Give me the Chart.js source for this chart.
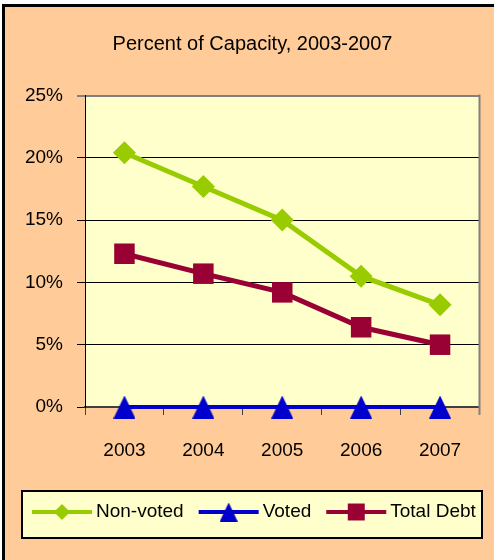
<!DOCTYPE html>
<html>
<head>
<meta charset="utf-8">
<script src="https://cdn.jsdelivr.net/npm/chart.js@4.4.0/dist/chart.umd.min.js"></script>
<style>
    html, body { margin: 0; padding: 0; background: #fff; }
    #wrap { width: 494px; height: 560px; position: relative; }
</style>
</head>
<body>
<div id="wrap"><canvas id="capacityChart" width="494" height="560"></canvas></div>
<script>
const years = ["2003", "2004", "2005", "2006", "2007"];
const nonVoted = [20.4, 17.7, 15.0, 10.5, 8.2];
const voted = [0, 0, 0, 0, 0];
const totalDebt = [12.3, 10.7, 9.2, 6.4, 5.0];
const yTicks = [0, 5, 10, 15, 20, 25];

const FONT = "'Liberation Sans', Arial, sans-serif";

// Triangle marker as a small canvas, centred on the point like in Excel
function makeTriangle(w, h, color) {
    const c = document.createElement("canvas");
    c.width = w;
    c.height = h;
    const g = c.getContext("2d");
    g.fillStyle = color;
    g.beginPath();
    g.moveTo(w / 2, 0);
    g.lineTo(w, h);
    g.lineTo(0, h);
    g.closePath();
    g.fill();
    return c;
}

// Background, outer frame, plot area fill and boxed legend
const frame = {
    id: "frame",
    beforeDraw(chart) {
        const { ctx, width, height, chartArea: a } = chart;
        ctx.save();
        ctx.fillStyle = "#fff";
        ctx.fillRect(0, 0, width, height);
        ctx.fillStyle = "#FFCC99";
        ctx.fillRect(2, 4, width, height);
        ctx.fillStyle = "#000";
        ctx.fillRect(2, 4, 3, height);
        ctx.fillRect(2, 4, width, 3);
        ctx.fillStyle = "#FFFFCC";
        ctx.fillRect(a.left, a.top, a.right - a.left, a.bottom - a.top);
        ctx.restore();
    },
    afterDatasetsDraw(chart) {
        const { ctx, chartArea: a } = chart;
        ctx.save();
        ctx.strokeStyle = "#808080";
        ctx.lineWidth = 2;
        ctx.beginPath();
        ctx.moveTo(a.right, a.top - 1);
        ctx.lineTo(a.right, a.bottom + 8);
        ctx.stroke();
        ctx.restore();
    },
    afterDraw(chart) {
        const { ctx } = chart;
        const top = chart.chartArea.bottom + 84;   // just under the x axis
        const cy = top + 21;
        ctx.save();
        ctx.font = "19px " + FONT;
        ctx.textBaseline = "middle";

        const lineW = 60, gapText = 4, gapItem = 15;
        let x = 32;
        const items = chart.data.datasets.map(ds => {
            const w = ctx.measureText(ds.label).width;
            const it = { ds, x, w };
            x += lineW + gapText + w + gapItem;
            return it;
        });
        const right = Math.max(482, x - gapItem + 2);

        ctx.fillStyle = "#FFFFCC";
        ctx.fillRect(22, top, right - 22, 47);
        ctx.strokeStyle = "#000";
        ctx.lineWidth = 2;
        ctx.strokeRect(22, top, right - 22, 47);

        items.forEach(({ ds, x }) => {
            ctx.strokeStyle = ds.borderColor;
            ctx.lineWidth = 4;
            ctx.beginPath();
            ctx.moveTo(x, cy);
            ctx.lineTo(x + lineW, cy);
            ctx.stroke();
            ctx.fillStyle = ds.pointBackgroundColor;
            Chart.helpers.drawPoint(ctx, {
                pointStyle: ds.legendStyle || ds.pointStyle,
                radius: ds.legendRadius,
                borderWidth: 0,
                rotation: 0
            }, x + lineW / 2, cy);
            ctx.fillStyle = "#000";
            ctx.textAlign = "left";
            ctx.fillText(ds.label, x + lineW + gapText, cy);
        });
        ctx.restore();
    }
};

new Chart(document.getElementById("capacityChart"), {
    type: "line",
    data: {
        labels: years,
        datasets: [{
            label: "Non-voted",
            data: nonVoted,
            borderColor: "#99CC00",
            backgroundColor: "#99CC00",
            pointBackgroundColor: "#99CC00",
            pointBorderWidth: 0,
            borderWidth: 5,
            pointStyle: "rectRot",
            pointRadius: 11.5,
            legendRadius: 8
        }, {
            label: "Voted",
            data: voted,
            borderColor: "#0000CC",
            backgroundColor: "#0000CC",
            pointBackgroundColor: "#0000CC",
            pointBorderWidth: 0,
            borderWidth: 4,
            pointStyle: makeTriangle(22, 23, "#0000CC"),
            legendStyle: makeTriangle(18, 19, "#0000CC"),
            pointRadius: 12,
            legendRadius: 10
        }, {
            label: "Total Debt",
            data: totalDebt,
            borderColor: "#990033",
            backgroundColor: "#990033",
            pointBackgroundColor: "#990033",
            pointBorderWidth: 0,
            borderWidth: 5,
            pointStyle: "rect",
            pointRadius: 14.5,
            legendRadius: 12
        }]
    },
    options: {
        responsive: false,
        animation: false,
        clip: false,
        layout: { padding: { left: 22, right: 11, top: 0, bottom: 69 } },
        plugins: {
            tooltip: { enabled: false },
            legend: { display: false },
            title: {
                display: true,
                text: "Percent of Capacity, 2003-2007",
                color: "#000",
                font: { family: FONT, size: 20, weight: "normal" },
                padding: { top: 32.5, bottom: 39 }
            }
        },
        scales: {
            x: {
                offset: true,
                grid: {
                    offset: true,
                    drawOnChartArea: false,
                    drawTicks: true,
                    tickLength: 8,
                    color: "#404040",
                    lineWidth: 1
                },
                border: { color: "#404040", width: 2 },
                ticks: {
                    color: "#000",
                    padding: 24,
                    maxRotation: 0,
                    font: { family: FONT, size: 19 }
                },
                afterFit(scale) { scale.height = 84; }
            },
            y: {
                min: 0,
                max: 25,
                afterBuildTicks(scale) {
                    scale.ticks = yTicks.map(v => ({ value: v }));
                },
                grid: {
                    tickLength: 8,
                    color: ctx => ctx.tick && ctx.tick.value === 25 ? "#808080" : "#000",
                    lineWidth: ctx => ctx.tick && ctx.tick.value === 25 ? 2 : 1
                },
                border: { color: "#000", width: 1 },
                ticks: {
                    color: "#000",
                    padding: 14,
                    font: { family: FONT, size: 19 },
                    callback: v => v + "%"
                },
                afterFit(scale) { scale.width = 63; }
            }
        }
    },
    plugins: [frame]
});
</script>
</body>
</html>
